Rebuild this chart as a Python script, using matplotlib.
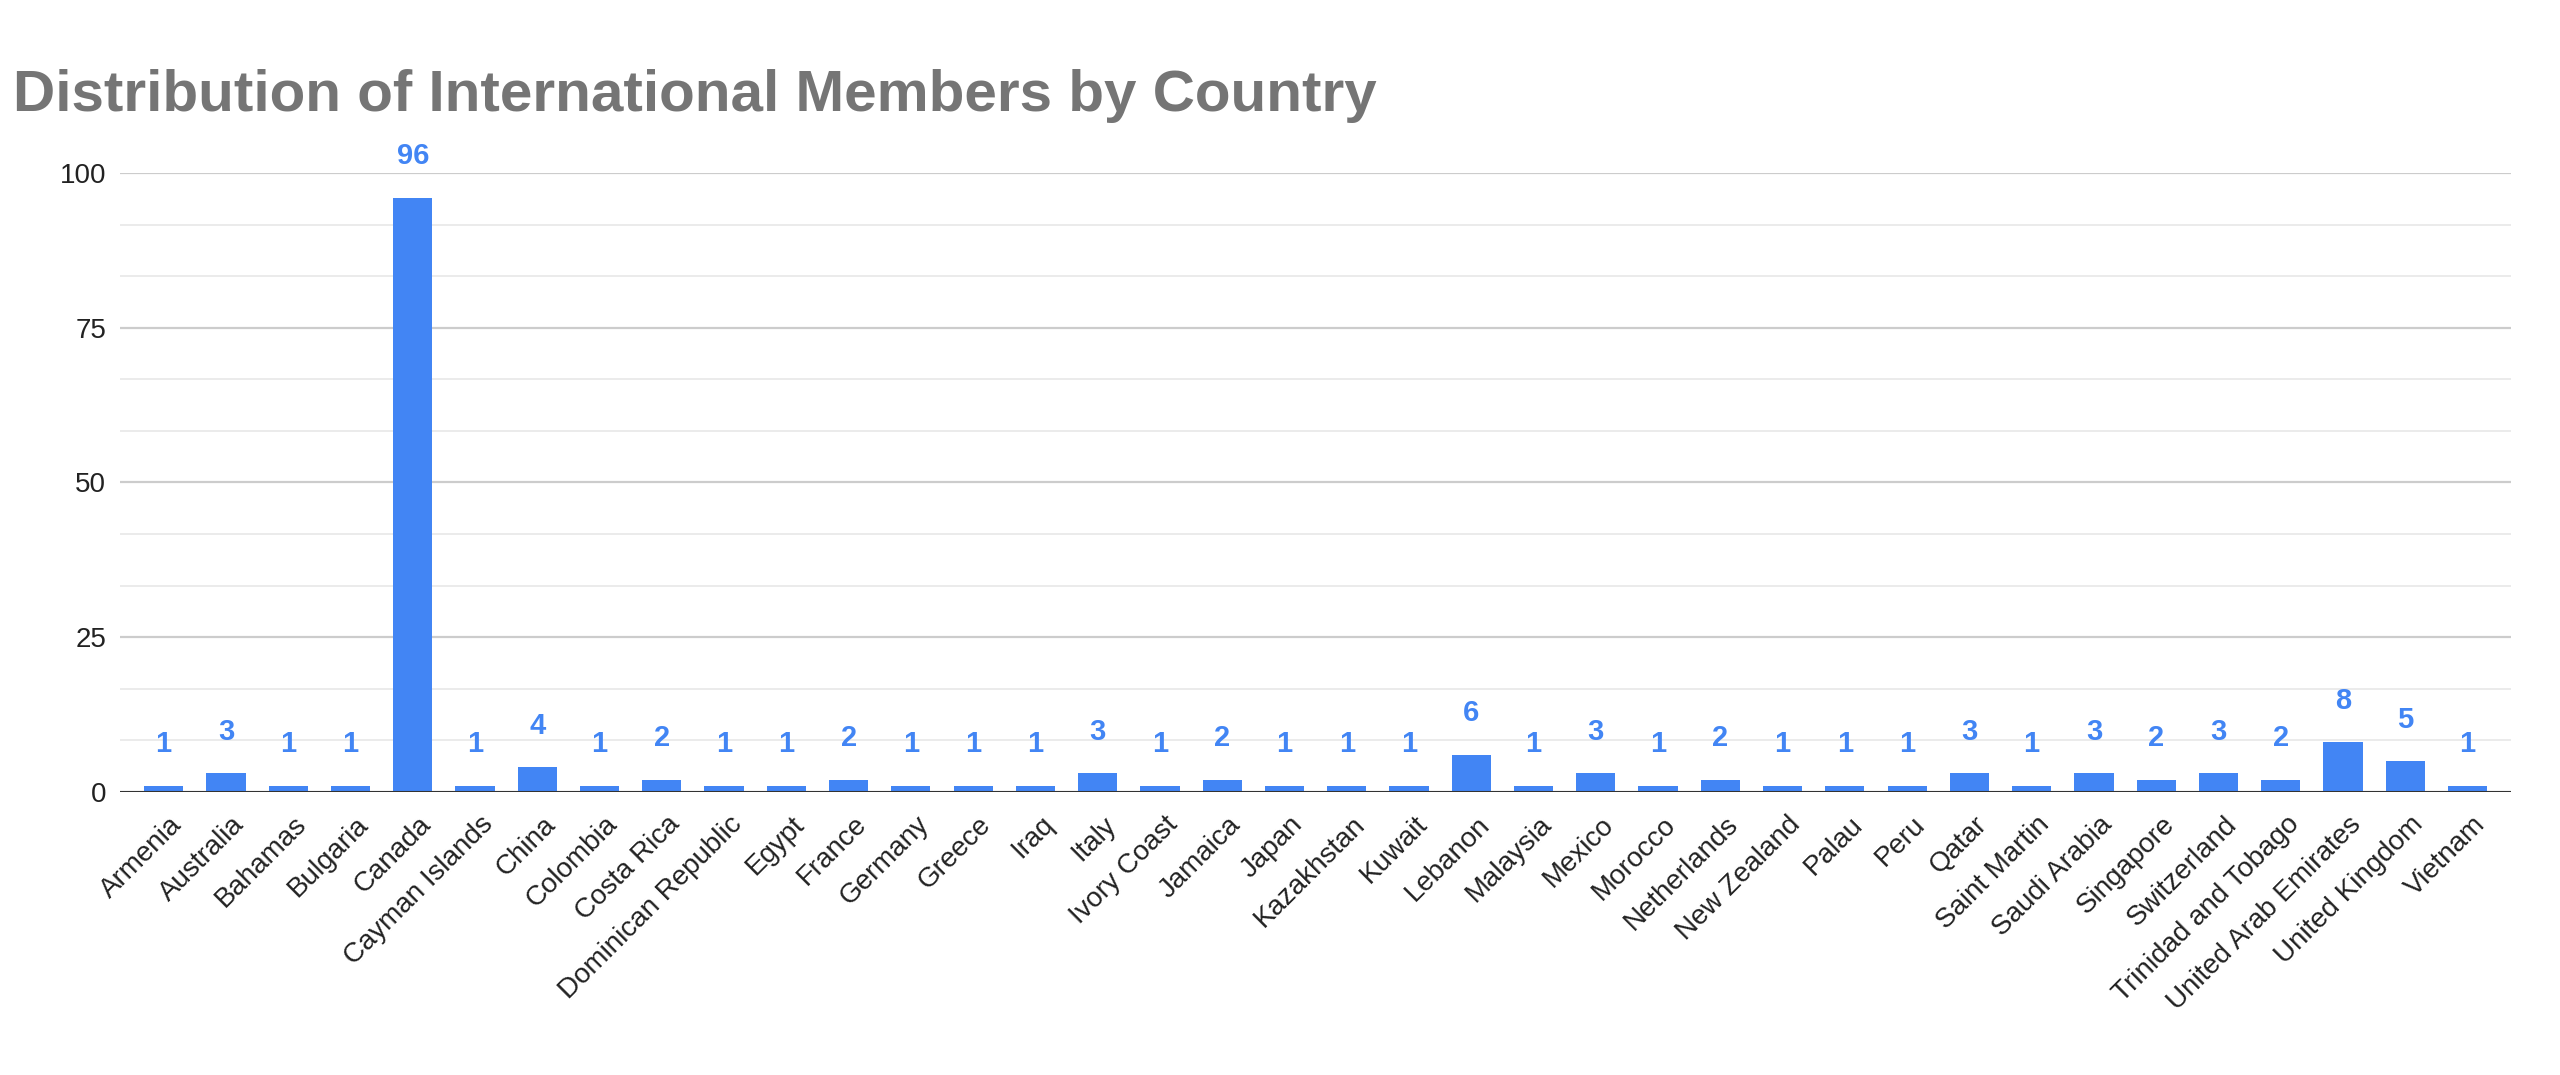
"""
    Bar chart of international members per country, Google Sheets look.
"""

# ------ Environment Setup ------ #
import matplotlib
matplotlib.use("Agg")
import matplotlib.pyplot as plt             # plotting
from matplotlib.ticker import MultipleLocator
import matplotlib.transforms as mtransforms


# ------ Data ------ #
countries = [
    "Armenia", "Australia", "Bahamas", "Bulgaria", "Canada", "Cayman Islands",
    "China", "Colombia", "Costa Rica", "Dominican Republic", "Egypt", "France",
    "Germany", "Greece", "Iraq", "Italy", "Ivory Coast", "Jamaica", "Japan",
    "Kazakhstan", "Kuwait", "Lebanon", "Malaysia", "Mexico", "Morocco",
    "Netherlands", "New Zealand", "Palau", "Peru", "Qatar", "Saint Martin",
    "Saudi Arabia", "Singapore", "Switzerland", "Trinidad and Tobago",
    "United Arab Emirates", "United Kingdom", "Vietnam",
]
members = [
    1, 3, 1, 1, 96, 1,
    4, 1, 2, 1, 1, 2,
    1, 1, 1, 3, 1, 2, 1,
    1, 1, 6, 1, 3, 1,
    2, 1, 1, 1, 3, 1,
    3, 2, 3, 2,
    8, 5, 1,
]
y_ticks = [0, 25, 50, 75, 100]

TITLE = "Distribution of International Members by Country"
BLUE = "#4285F4"


# ------ Plotting ------ #
plt.rcParams["font.family"] = ["Liberation Sans", "DejaVu Sans"]

fig = plt.figure(figsize=(25.6, 10.75), dpi=100)
ax = fig.add_axes([0.0469, 0.2633, 0.9340, 0.5758])

x = list(range(len(countries)))
ax.bar(x, members, width=0.63, color=BLUE, zorder=3)

# value labels above bars
for xi, v in zip(x, members):
    ax.annotate(str(v), (xi, v), xytext=(0, 24), textcoords="offset points",
                ha="center", va="baseline", fontsize=21, fontweight="bold",
                color=BLUE, annotation_clip=False, zorder=4)

# axes & grid
ax.set_xlim(-0.7, len(countries) - 1 + 0.7)
ax.set_ylim(0, 100)
ax.set_yticks(y_ticks)
ax.yaxis.set_minor_locator(MultipleLocator(25 / 3))
ax.grid(axis="y", which="major", color="#cccccc", linewidth=1.6, zorder=0)
ax.grid(axis="y", which="minor", color="#ebebeb", linewidth=1.4, zorder=0)
ax.axhline(0, color="#333333", linewidth=2.2, zorder=5)
for s in ax.spines.values():
    s.set_visible(False)

ax.tick_params(axis="y", which="both", length=0, pad=10, labelsize=20,
               labelcolor="#222222")
ax.tick_params(axis="x", length=0, pad=14, labelsize=20, labelcolor="#222222")
ax.set_xticks(x)
ax.set_xticklabels(countries, rotation=45, ha="right", rotation_mode="anchor")
shift = mtransforms.ScaledTranslation(5 / 100, 0, fig.dpi_scale_trans)
for lbl in ax.get_xticklabels():
    lbl.set_transform(lbl.get_transform() + shift)

# title
fig.text(0.005, 1 - 111 / 1075, TITLE, fontsize=42, fontweight="bold",
         color="#757575", ha="left", va="baseline")

plt.savefig("out.png", dpi=100)
